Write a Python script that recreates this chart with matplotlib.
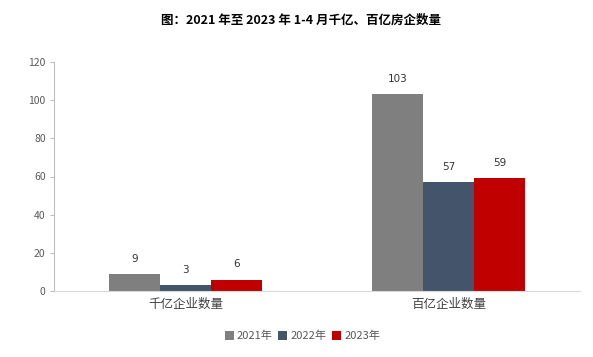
import matplotlib
matplotlib.use("Agg")
import matplotlib.pyplot as plt
import numpy as np

plt.rcParams['font.family'] = ['Noto Sans CJK SC', 'DejaVu Sans']

categories = ["千亿企业数量", "百亿企业数量"]
series_names = ["2021年", "2022年", "2023年"]
v2021 = [9, 103]
v2022 = [3, 57]
v2023 = [6, 59]
colors = ["#7f7f7f", "#44546a", "#c00000"]
title = "图：2021 年至 2023 年 1-4 月千亿、百亿房企数量"

fig = plt.figure(figsize=(5.93, 3.57), dpi=100)
ax = fig.add_axes([54/593, 1-291/357, (580-54)/593, (291-62)/357])

x = np.arange(len(categories))
w = 0.194
for i, (vals, name, c) in enumerate(zip([v2021, v2022, v2023], series_names, colors)):
    bars = ax.bar(x + (i-1)*w, vals, w, color=c, label=name)
    for b, v in zip(bars, vals):
        ax.text(b.get_x()+b.get_width()/2, v + 5.3, str(v), ha='center', va='bottom',
                fontsize=7.5, color='#333333', family='DejaVu Sans')

ax.set_xlim(-0.5, 1.5)
ax.set_ylim(0, 120)
ax.set_yticks(range(0, 121, 20))
ax.set_xticks(x)
ax.set_xticklabels(categories, fontsize=9, color='#404040')
ax.tick_params(axis='x', length=0, pad=5)
ax.tick_params(axis='y', length=3, color='#bfbfbf', labelsize=7.5, labelcolor='#595959', pad=3)
for s in ['top', 'right']:
    ax.spines[s].set_visible(False)
ax.spines['left'].set_color('#bfbfbf')
ax.spines['bottom'].set_color('#d9d9d9')

fig.text(0.508, 1-20/357, title, ha='center', va='center', fontsize=9, fontweight='bold')

leg = fig.legend(loc='center', bbox_to_anchor=(0.51, 1-336/357), ncol=3, frameon=False,
                 fontsize=8, handlelength=0.8, handleheight=0.8, handletextpad=0.3,
                 columnspacing=0.5)
for t in leg.get_texts():
    t.set_color('#595959')

fig.savefig("out.png", dpi=100)
